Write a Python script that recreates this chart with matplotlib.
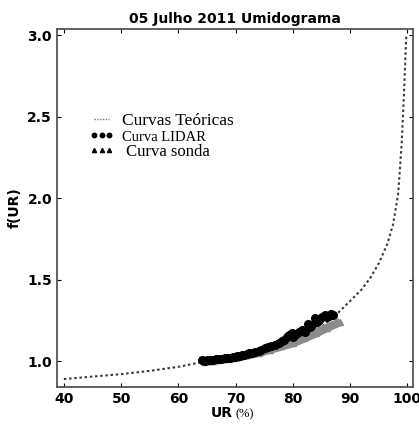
import numpy as np
import matplotlib.pyplot as plt

# theoretical humidogram curve
ur_teo = [40, 45, 50, 55, 60, 65, 70, 75, 80, 85, 88, 90, 92, 93.5, 95, 96.5,
          97.5, 98.4, 99.0, 99.4, 99.6, 99.8]
f_teo = [0.89, 0.905, 0.92, 0.94, 0.965, 1.0, 1.03, 1.07, 1.13, 1.21, 1.30,
         1.37, 1.44, 1.51, 1.60, 1.72, 1.84, 2.03, 2.34, 2.64, 2.82, 3.0]

# LIDAR points
ur_lidar = [64.2, 64.6, 65.0, 65.5, 66.0, 66.5, 67.0, 67.5, 68.1, 68.7, 69.1, 69.5,
            69.9, 70.3, 70.7, 71.1, 71.5, 72.0, 72.4, 72.9, 73.4, 74.0, 74.5, 75.1,
            75.7, 76.2, 76.8, 77.5, 78.1, 78.5, 79.0, 79.4, 79.8, 80.1, 80.5, 81.0,
            81.6, 82.2, 82.7, 83.0, 83.3, 83.9, 84.2, 84.5, 85.0, 85.6, 86.0, 86.3,
            86.7, 87.0]
f_lidar = [1.005, 1.003, 1.005, 1.006, 1.008, 1.01, 1.012, 1.015, 1.018, 1.02, 1.022,
           1.025, 1.027, 1.03, 1.033, 1.037, 1.04, 1.045, 1.048, 1.052, 1.057, 1.064,
           1.07, 1.078, 1.087, 1.093, 1.10, 1.11, 1.125, 1.13, 1.15, 1.16, 1.17, 1.15,
           1.165, 1.18, 1.19, 1.18, 1.23, 1.21, 1.22, 1.265, 1.24, 1.25, 1.27, 1.285,
           1.27, 1.28, 1.29, 1.285]

# radiosonde points
ur_sonda = [64.5, 66, 68, 70, 72, 74, 76, 78, 80, 82, 84, 86, 88.3]
f_sonda = [0.995, 1.0, 1.01, 1.02, 1.035, 1.05, 1.07, 1.09, 1.11, 1.14, 1.17, 1.205, 1.24]

fig = plt.figure(figsize=(4.19, 4.25), dpi=100)
ax = fig.add_axes([0.136, 0.089, 0.85, 0.843])

ax.plot(ur_teo, f_teo, linestyle=(0, (1.2, 1.3)), color='#3a3a3a', linewidth=1.5,
        label='Curvas Teóricas')
ax.plot(ur_sonda, f_sonda, color='#8c8c8c', linewidth=6, solid_capstyle='butt', zorder=2)
ax.plot(ur_sonda, f_sonda, '^', color='#8c8c8c', markersize=5, zorder=2,
        label='Curva sonda')
ax.plot(ur_lidar, f_lidar, 'o', color='black', markersize=5.5, linestyle='none', zorder=3,
        label='Curva LIDAR')

ax.set_xlim(38.8, 101)
ax.set_ylim(0.84, 3.04)
ax.set_xticks([40, 50, 60, 70, 80, 90, 100])
ax.set_yticks([1.0, 1.5, 2.0, 2.5, 3.0])
ax.tick_params(direction='in', top=True, right=True, length=3, labelsize=10)
for lab in ax.get_xticklabels() + ax.get_yticklabels():
    lab.set_fontweight('bold')
for sp in ax.spines.values():
    sp.set_color('#555555')
    sp.set_linewidth(1.3)

ax.set_title('05 Julho 2011 Umidograma', fontsize=10, fontweight='bold', pad=4)
ax.set_ylabel('f(UR)', fontsize=10, fontweight='bold')
fig.text(0.555, 0.018, 'UR', fontsize=10, fontweight='bold', ha='right')
fig.text(0.562, 0.018, '(%)', fontsize=9, family='Liberation Serif', ha='left')

# legend: custom handles in the order of the original
h_teo, = ax.plot([], [], linestyle=(0, (1, 1)), color='#777777', linewidth=1)
h_lid, = ax.plot([], [], 'o', color='black', markersize=3.2)
h_son, = ax.plot([], [], '^', color='black', markersize=3)
leg = ax.legend([h_teo, h_lid, h_son], ['Curvas Teóricas', 'Curva LIDAR', ' Curva sonda'],
                loc='upper left', bbox_to_anchor=(0.045, 0.81), frameon=False,
                numpoints=3, handlelength=1.5, handletextpad=0.45, labelspacing=0.0,
                prop={'family': 'Liberation Serif', 'size': 12.5})
leg.get_texts()[1].set_fontsize(10.5)
leg.get_texts()[2].set_fontsize(12)

fig.savefig('out.png', dpi=100)
